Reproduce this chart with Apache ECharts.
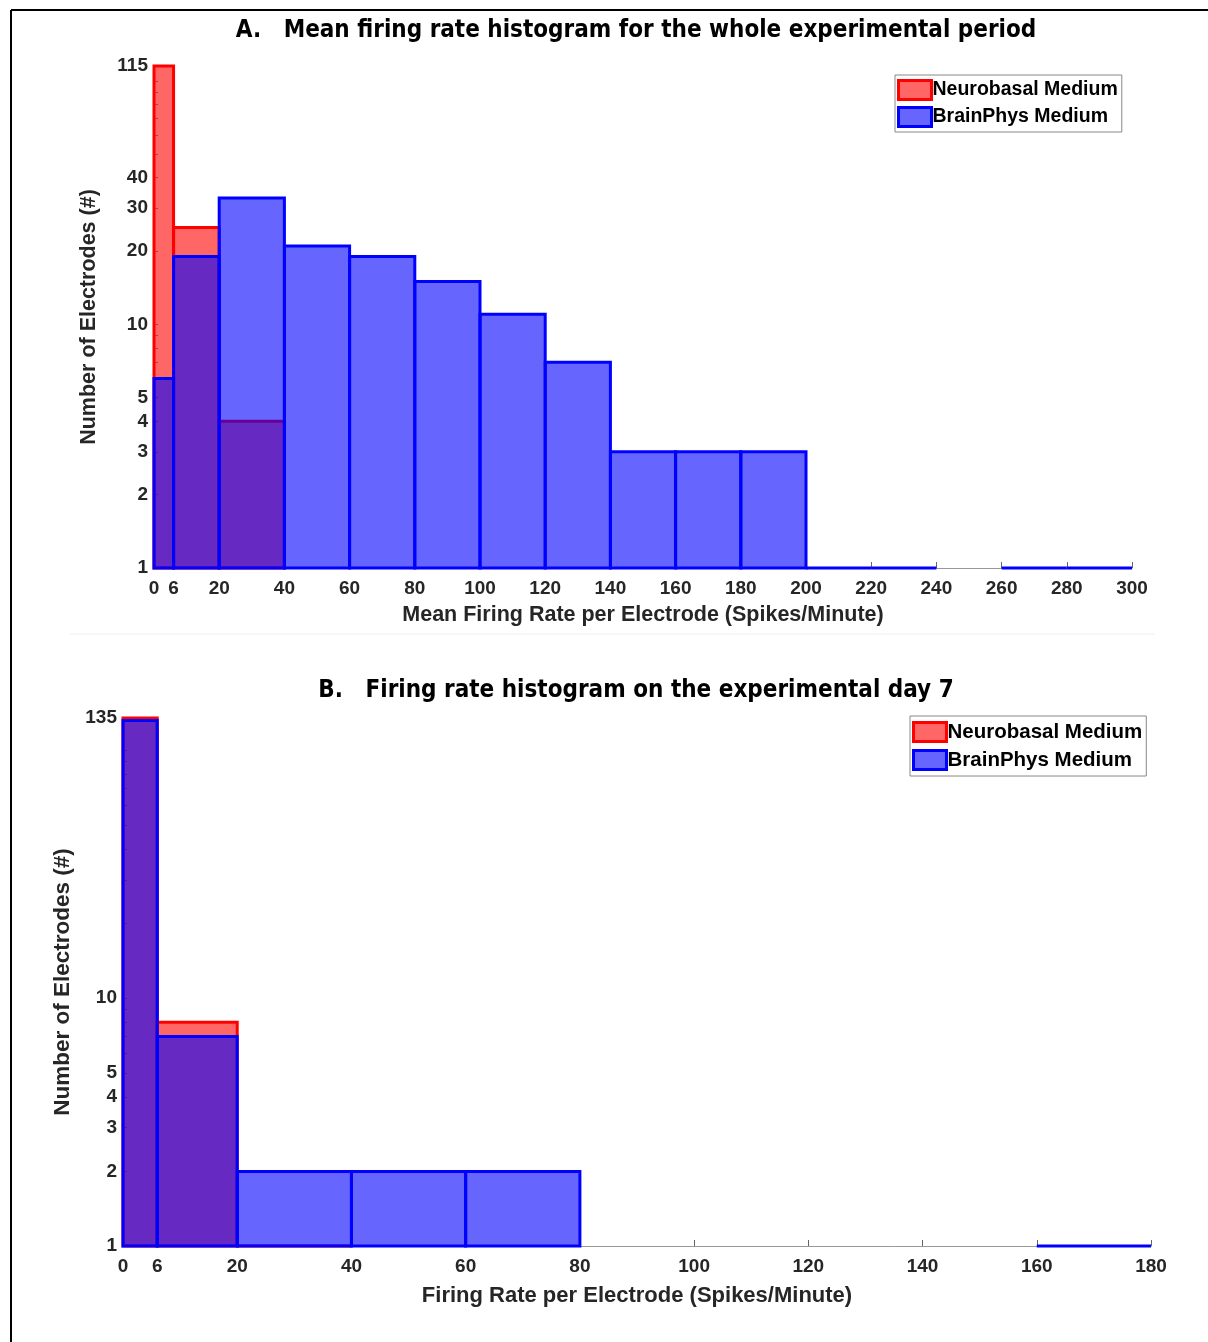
<!DOCTYPE html>
<html><head><meta charset="utf-8">
<script src="https://cdn.jsdelivr.net/npm/echarts@6/dist/echarts.min.js"></script>
<style>html,body{margin:0;padding:0;background:#fff}#c{width:1208px;height:1342px}</style>
</head><body><div id="c"></div>
<script>
// ---- Data ----
const binEdgesA = [0,6,20,40,60,80,100,120,140,160,180,200,220,240,260,280,300];
const neurobasalA = [115,25,4,0,0,0,0,0,0,0,0,0,0,0,0,0];
const brainPhysA  = [6,19,33,21,19,15,11,7,3,3,3,1,1,0,1,1];
const xTicksA = [0,6,20,40,60,80,100,120,140,160,180,200,220,240,260,280,300];
const yTicksA = [1,2,3,4,5,10,20,30,40,115];

const binEdgesB = [0,6,20,40,60,80,100,120,140,160,180];
const neurobasalB = [135,8,1,0,0,0,0,0,0,0];
const brainPhysB  = [132,7,2,2,2,0,0,0,0,1];
const xTicksB = [0,6,20,40,60,80,100,120,140,160,180];
const yTicksB = [1,2,3,4,5,10,135];

const seriesNames = ['Neurobasal Medium','BrainPhys Medium'];
const titleA = 'A.   Mean firing rate histogram for the whole experimental period';
const titleB = 'B.   Firing rate histogram on the experimental day 7';

// ---- Styles ----
const RED_FILL = 'rgba(255,0,0,0.6)', RED_EDGE = '#ff0000';
const BLUE_FILL = 'rgba(0,0,255,0.6)', BLUE_EDGE = '#0000ff';
const TXT = '#262626';
const FONT = 'Liberation Sans, Arial, sans-serif';

function binsToData(edges, counts){
  const out = [];
  for (let i=0;i<counts.length;i++){ if (counts[i] > 0) out.push([edges[i], edges[i+1], counts[i]]); }
  return out;
}
function minorTicks(max){
  const t=[]; for (let d=1; d<=max; d*=10){ for (let k=1;k<10;k++){ const v=k*d; if (v<=max) t.push(v);} } if (t[t.length-1]!==max) t.push(max); return t;
}
function renderBar(fill, edge){
  return function(params, api){
    const p0 = api.coord([api.value(0), api.value(2)]);
    const p1 = api.coord([api.value(1), 1]);
    return {type:'rect', shape:{x:p0[0], y:p0[1], width:p1[0]-p0[0], height:p1[1]-p0[1]},
      style:{fill:fill, stroke:edge, lineWidth:3}};
  };
}
function xAxisDef(idx, max, ticks, name, nameSize, gap){
  return {gridIndex:idx, type:'value', min:0, max:max,
    axisLine:{show:true, lineStyle:{color:'#999', width:1}},
    axisTick:{show:true, inside:true, length:6, lineStyle:{color:'#666'}, customValues:ticks},
    axisLabel:{customValues:ticks, color:TXT, fontSize:19, fontWeight:'bold', fontFamily:FONT, margin:11},
    splitLine:{show:false},
    name:name, nameLocation:'middle', nameGap:gap,
    nameTextStyle:{color:TXT, fontSize:nameSize, fontWeight:'bold', fontFamily:FONT}};
}
function yAxisDef(idx, max, ticks, nameSize, gap){
  return {gridIndex:idx, type:'log', logBase:10, min:1, max:max,
    axisLine:{show:true, lineStyle:{color:'#999', width:1}},
    axisTick:{show:true, inside:true, length:4, lineStyle:{color:'#888'}, customValues:minorTicks(max)},
    axisLabel:{customValues:ticks, color:TXT, fontSize:19, fontWeight:'bold', fontFamily:FONT, margin:6,
      formatter:v=>String(Math.round(v))},
    splitLine:{show:false}, minorTick:{show:false},
    name:'Number of Electrodes (#)', nameLocation:'middle', nameGap:gap,
    nameTextStyle:{color:TXT, fontSize:nameSize, fontWeight:'bold', fontFamily:FONT}};
}
function legendDef(left, top, size, gap, padTop){
  return {orient:'vertical', left:left, top:top, itemWidth:33, itemHeight:19, itemGap:gap,
    padding:[padTop,4,padTop,2], borderColor:'#888', borderWidth:1, backgroundColor:'#fff', selectedMode:false,
    textStyle:{color:'#000', fontSize:size, fontWeight:'bold', fontFamily:FONT, padding:[0,0,0,-4]},
    data:[{name:seriesNames[0], icon:'rect', itemStyle:{color:RED_FILL, borderColor:RED_EDGE, borderWidth:3}},
          {name:seriesNames[1], icon:'rect', itemStyle:{color:BLUE_FILL, borderColor:BLUE_EDGE, borderWidth:3}}]};
}
function barSeries(name, idx, data, fill, edge){
  return {type:'custom', name:name, xAxisIndex:idx, yAxisIndex:idx, clip:false,
    itemStyle:{color:fill, borderColor:edge, borderWidth:3},
    renderItem:renderBar(fill, edge), encode:{x:[0,1], y:2}, data:data};
}

const chart = echarts.init(document.getElementById('c'), null, {renderer:'canvas'});
chart.setOption({
  animation:false,
  backgroundColor:'#fff',
  grid:[{left:154, top:66, width:978, height:502},
        {left:123, top:718, width:1028, height:528}],
  xAxis:[xAxisDef(0,300,xTicksA,'Mean Firing Rate per Electrode (Spikes/Minute)',21.5,36),
         xAxisDef(1,180,xTicksB,'Firing Rate per Electrode (Spikes/Minute)',22,39)],
  yAxis:[yAxisDef(0,115,yTicksA,21.5,54), yAxisDef(1,135,yTicksB,22.5,46)],
  legend:[legendDef(895,75,19.5,5,4), legendDef(910,716,20.5,6,5)],
  series:[
    barSeries(seriesNames[0],0,binsToData(binEdgesA,neurobasalA),RED_FILL,RED_EDGE),
    barSeries(seriesNames[1],0,binsToData(binEdgesA,brainPhysA),BLUE_FILL,BLUE_EDGE),
    barSeries(seriesNames[0],1,binsToData(binEdgesB,neurobasalB),RED_FILL,RED_EDGE),
    barSeries(seriesNames[1],1,binsToData(binEdgesB,brainPhysB),BLUE_FILL,BLUE_EDGE)
  ],
  graphic:[
    {type:'line', shape:{x1:11, y1:10, x2:1208, y2:10}, style:{stroke:'#000', lineWidth:2}, silent:true},
    {type:'line', shape:{x1:11, y1:10, x2:11, y2:1342}, style:{stroke:'#000', lineWidth:2}, silent:true},
    {type:'line', shape:{x1:70, y1:634, x2:1155, y2:634}, style:{stroke:'#eeeeee', lineWidth:1}, silent:true},
    {type:'text', x:636, y:31, style:{text:titleA, fill:'#000', font:'bold 24px "Liberation Sans Narrow", "DejaVu Sans Condensed", sans-serif', textAlign:'center', textVerticalAlign:'middle'}},
    {type:'text', x:636, y:691, style:{text:titleB, fill:'#000', font:'bold 24px "Liberation Sans Narrow", "DejaVu Sans Condensed", sans-serif', textAlign:'center', textVerticalAlign:'middle'}}
  ]
});
</script></body></html>
